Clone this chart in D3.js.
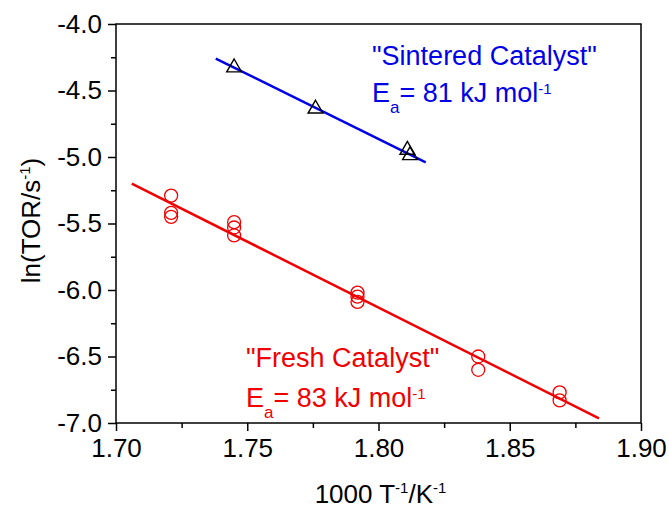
<!DOCTYPE html>
<html>
<head>
<meta charset="utf-8">
<script src="https://cdn.jsdelivr.net/npm/d3@7"></script>
<style>
  html, body { margin: 0; padding: 0; background: #fff; }
  svg text { font-family: Arial, "Liberation Sans", sans-serif; }
</style>
</head>
<body>
<svg id="chart" width="669" height="509"></svg>
<script>
/* ---------- data ---------- */
const freshX = [1.721, 1.721, 1.721, 1.745, 1.745, 1.745, 1.792, 1.792, 1.792, 1.838, 1.838, 1.869, 1.869];
const freshY = [-5.29, -5.42, -5.45, -5.49, -5.53, -5.59, -6.02, -6.05, -6.09, -6.50, -6.60, -6.77, -6.83];
const sinterX = [1.745, 1.776, 1.811, 1.812];
const sinterY = [-4.32, -4.63, -4.94, -4.98];
// fitted lines, endpoints as drawn
const freshFitX = [1.706, 1.884];
const freshFitY = [-5.20, -6.965];
const sinterFitX = [1.738, 1.818];
const sinterFitY = [-4.26, -5.04];

const xTicks = [1.70, 1.75, 1.80, 1.85, 1.90];
const yTicks = [-4.0, -4.5, -5.0, -5.5, -6.0, -6.5, -7.0];

/* ---------- layout ---------- */
const svg = d3.select("#chart");
const margin = { top: 24, right: 28, bottom: 86, left: 116 };
const W = 669, H = 509;
const innerW = W - margin.left - margin.right;
const innerH = H - margin.top - margin.bottom;
const g = svg.append("g").attr("transform", `translate(${margin.left},${margin.top})`);

const x = d3.scaleLinear().domain([1.70, 1.90]).range([0, innerW]);
const y = d3.scaleLinear().domain([-7.0, -4.0]).range([innerH, 0]);

const tickFont = 26, noteFont = 27, supFont = 15;
const blue = "#0000e6", red = "#f00000";

/* ---------- axes ---------- */
const fmt1 = d => d3.format(".1f")(d).replace("\u2212", "-");
const xAxis = d3.axisBottom(x).tickValues(xTicks).tickFormat(d3.format(".2f")).tickSize(8).tickPadding(8).tickSizeOuter(0);
const yAxis = d3.axisLeft(y).tickValues(yTicks).tickFormat(fmt1).tickSize(8).tickPadding(6).tickSizeOuter(0);

const xMinor = d3.axisBottom(x).tickValues(d3.range(1.725, 1.9, 0.05)).tickFormat("").tickSize(5).tickSizeOuter(0);
const yMinor = d3.axisLeft(y).tickValues(d3.range(-6.75, -4.0, 0.5)).tickFormat("").tickSize(5).tickSizeOuter(0);

function styleAxis(sel) {
  sel.attr("font-family", null).attr("font-size", null);
  sel.select(".domain").remove();
  sel.selectAll("line").attr("stroke", "#000").attr("stroke-width", 1.5);
  sel.selectAll("text").attr("font-size", tickFont).attr("fill", "#000");
}

g.append("g").attr("transform", `translate(0,${innerH})`).call(xMinor).call(styleAxis);
g.append("g").call(yMinor).call(styleAxis);
g.append("g").attr("transform", `translate(0,${innerH})`).call(xAxis).call(styleAxis);
g.append("g").call(yAxis).call(styleAxis);

// frame
g.append("rect").attr("width", innerW).attr("height", innerH)
  .attr("fill", "none").attr("stroke", "#000").attr("stroke-width", 1.5);

/* ---------- axis titles ---------- */
const xt = g.append("text").attr("x", innerW / 2 + 2).attr("y", innerH + 80)
  .attr("text-anchor", "middle").attr("font-size", tickFont);
xt.append("tspan").text("1000 T");
xt.append("tspan").attr("font-size", supFont).attr("dy", -10).text("-1");
xt.append("tspan").attr("dy", 10).text("/K");
xt.append("tspan").attr("font-size", supFont).attr("dy", -10).text("-1");

const yt = g.append("text").attr("transform", "rotate(-90)")
  .attr("x", -innerH / 2 + 3).attr("y", -76).attr("text-anchor", "middle").attr("font-size", tickFont);
yt.append("tspan").text("ln(TOR/s");
yt.append("tspan").attr("font-size", supFont).attr("dy", -10).text("-1");
yt.append("tspan").attr("dy", 10).text(")");

/* ---------- fit lines ---------- */
const line = d3.line().x(d => x(d[0])).y(d => y(d[1]));
g.append("path").datum(d3.zip(sinterFitX, sinterFitY)).attr("d", line)
  .attr("fill", "none").attr("stroke", blue).attr("stroke-width", 2.5);
g.append("path").datum(d3.zip(freshFitX, freshFitY)).attr("d", line)
  .attr("fill", "none").attr("stroke", red).attr("stroke-width", 2.5);

/* ---------- markers ---------- */
g.selectAll(".fresh").data(d3.zip(freshX, freshY)).join("circle")
  .attr("class", "fresh")
  .attr("cx", d => x(d[0])).attr("cy", d => y(d[1])).attr("r", 6.5)
  .attr("fill", "none").attr("stroke", red).attr("stroke-width", 1.3);

const tri = d3.symbol().type(d3.symbolTriangle).size(95);
g.selectAll(".sinter").data(d3.zip(sinterX, sinterY)).join("path")
  .attr("class", "sinter")
  .attr("transform", d => `translate(${x(d[0])},${y(d[1]) + 1})`)
  .attr("d", tri)
  .attr("fill", "none").attr("stroke", "#000").attr("stroke-width", 1.4);

/* ---------- annotations ---------- */
function ea(gx, gy, value, color) {
  const t = g.append("text").attr("x", gx).attr("y", gy).attr("font-size", noteFont).attr("fill", color);
  t.append("tspan").text("E");
  t.append("tspan").attr("font-size", 17).attr("dy", 11).text("a");
  t.append("tspan").attr("dy", -11).text(`= ${value} kJ mol`);
  t.append("tspan").attr("font-size", supFont).attr("dy", -8).text("-1");
}
g.append("text").attr("x", 256).attr("y", 41).attr("font-size", noteFont).attr("fill", blue)
  .text("\"Sintered Catalyst\"");
ea(256, 78, 81, blue);
g.append("text").attr("x", 130).attr("y", 343).attr("font-size", noteFont).attr("fill", red)
  .text("\"Fresh Catalyst\"");
ea(130, 383, 83, red);
</script>
</body>
</html>
